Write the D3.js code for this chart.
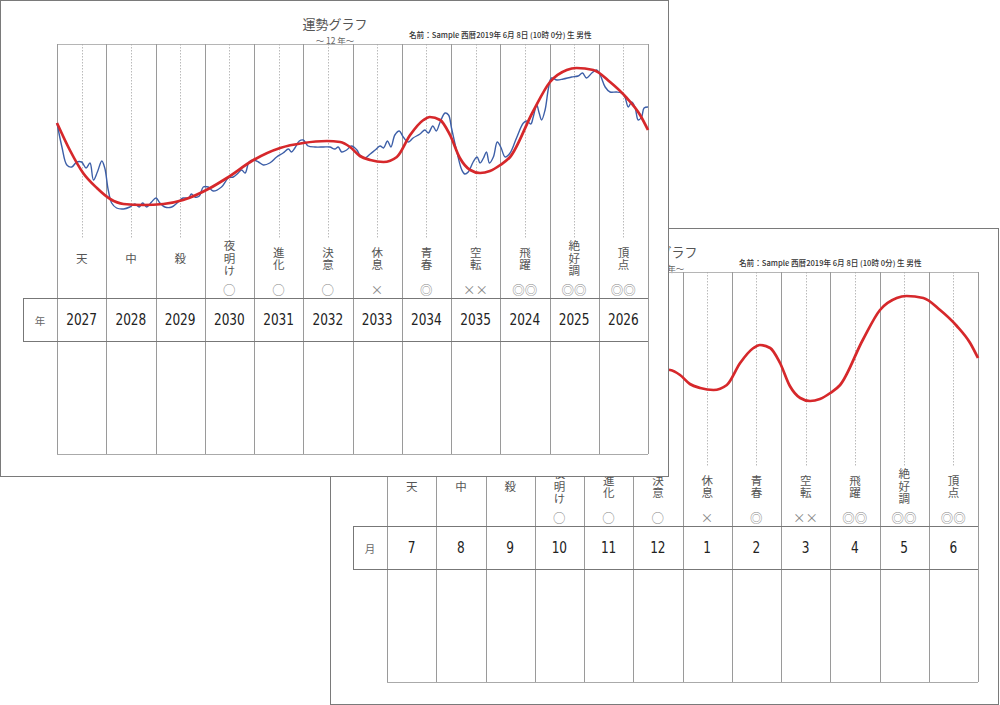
<!DOCTYPE html>
<html>
<head>
<meta charset="utf-8">
<script src="https://cdn.jsdelivr.net/npm/d3@7"></script>
<style>
  body { margin:0; background:#fff; }
  svg { display:block; }
  .vlabel { writing-mode: vertical-rl; text-orientation: upright; }
</style>
</head>
<body>
<svg id="svg"></svg>
<script>
// data
const columnNames = ['天','中','殺','夜明け','進化','決意','休息','青春','空転','飛躍','絶好調','頂点'];
const columnMarks = ['','','','○','○','○','×','◎','××','◎◎','◎◎','◎◎'];
const years = ['2027','2028','2029','2030','2031','2032','2033','2034','2035','2024','2025','2026'];
const months = ['7','8','9','10','11','12','1','2','3','4','5','6'];

// red trend line: [position in columns, score]
const trendLine = [[0,117],[0.26,90],[0.53,67],[0.81,52],[1.08,41],[1.35,36],[1.75,35],[2.16,36],[2.56,40],
  [3.11,52],[3.45,62],[3.99,80],[4.53,92],[5.0,97],[5.48,99],[5.75,98],[5.95,93],[6.15,84],[6.36,80],[6.63,78],
  [6.9,83],[7.17,105],[7.44,120],[7.57,123],[7.78,120],[7.98,105],[8.18,82],[8.39,70],[8.59,67],[8.79,69],
  [9.0,75],[9.2,83],[9.66,128],[10.01,158],[10.35,170],[10.55,172],[10.89,170],[11.23,158],[11.57,142],
  [11.84,125],[12,110]];

// blue detail line: [position in columns, score]
const detailLine = [[0,117],[0.1,93],[0.2,75],[0.3,73],[0.4,78],[0.5,78],[0.59,72],[0.67,77],[0.74,60],[0.82,68],
  [0.91,79],[0.97,72],[1.04,50],[1.11,37],[1.21,32],[1.35,31],[1.48,33],[1.58,36],[1.67,33],[1.74,37],[1.82,33],
  [1.92,38],[2.01,42],[2.09,37],[2.19,33],[2.33,33],[2.46,38],[2.56,42],[2.67,42],[2.73,46],[2.8,43],[2.89,44],
  [2.97,53],[3.07,53],[3.17,49],[3.34,53],[3.48,62],[3.58,63],[3.68,67],[3.75,70],[3.82,67],[3.9,78],[3.99,80],
  [4.09,78],[4.19,75],[4.32,77],[4.46,83],[4.59,87],[4.7,91],[4.76,88],[4.83,92],[4.92,99],[5.0,100],[5.1,94],
  [5.24,93],[5.41,93],[5.54,93],[5.64,91],[5.71,93],[5.78,88],[5.88,90],[5.98,94],[6.09,90],[6.15,85],[6.25,82],
  [6.36,86],[6.46,90],[6.56,94],[6.63,92],[6.71,99],[6.78,93],[6.86,105],[6.95,109],[7.03,103],[7.13,98],
  [7.23,102],[7.37,106],[7.47,110],[7.54,107],[7.63,114],[7.7,109],[7.78,118],[7.88,127],[7.95,125],[8.01,112],
  [8.12,88],[8.22,70],[8.28,66],[8.35,68],[8.45,78],[8.53,83],[8.59,77],[8.66,82],[8.72,88],[8.78,77],[8.86,83],
  [8.94,98],[9.01,93],[9.1,83],[9.2,87],[9.33,102],[9.47,117],[9.54,119],[9.62,116],[9.67,123],[9.74,135],
  [9.79,127],[9.84,120],[9.91,130],[9.98,152],[10.04,162],[10.15,160],[10.28,161],[10.45,163],[10.58,164],
  [10.67,167],[10.75,162],[10.86,167],[10.96,170],[11.03,165],[11.13,153],[11.23,148],[11.36,148],[11.46,147],
  [11.53,143],[11.6,133],[11.67,138],[11.74,132],[11.8,120],[11.87,123],[11.92,132],[12,133]];

const titleText = '運勢グラフ';
const subTitle = '～ 12 年～';
const infoText = '名前：Sample 西暦2019年 6月 8日 (10時 0分) 生 男性';

// declarations
let width = 1000, height = 705;
let svg = d3.select('#svg').attr('width', width).attr('height', height);
let sheetW = 668, sheetH = 476;
let grid = {left:57, right:648, top:44, bottom:454, tableTop:298, tableBottom:341, tableLeft:23};

let xScale = d3.scaleLinear().domain([0,12]).range([grid.left, grid.right]);
let yScale = d3.scaleLinear().domain([0,200]).range([240,40]);

const jp = "'Noto Sans CJK JP','Noto Sans',sans-serif";
const narrow = "'Liberation Sans Narrow','DejaVu Sans Condensed','Liberation Sans',sans-serif";

let drawSheet = (ox, oy, rowLabel, rowValues, showDetail) => {
  let g = svg.append('g').attr('transform', `translate(${ox},${oy})`);

  g.append('rect').attr('x',0.5).attr('y',0.5).attr('width',sheetW).attr('height',sheetH)
    .attr('fill','#fff').attr('stroke','#7a7a7a').attr('stroke-width',1);

  // header
  g.append('text').attr('x',335).attr('y',29).attr('text-anchor','middle')
    .attr('font-family',jp).attr('font-size',13).attr('fill','#555').text(titleText);
  g.append('text').attr('x',335).attr('y',43.5).attr('text-anchor','middle')
    .attr('font-family',jp).attr('font-size',8.5).attr('fill','#666').text(subTitle);
  g.append('text').attr('x',409).attr('y',38)
    .attr('font-family',jp).attr('font-size',7.6).attr('font-weight',500).attr('fill','#333').text(infoText);

  let idx = d3.range(12);

  // grid frame
  g.append('line').attr('x1',grid.left).attr('x2',grid.right).attr('y1',grid.top+0.5).attr('y2',grid.top+0.5)
    .attr('stroke','#b5b5b5');
  g.append('line').attr('x1',grid.left).attr('x2',grid.right).attr('y1',grid.bottom+0.5).attr('y2',grid.bottom+0.5)
    .attr('stroke','#aaa');

  // dotted center lines
  g.append('g').selectAll('line').data(idx).enter().append('line')
    .attr('x1',d=>Math.round(xScale(d+0.5))+0.5).attr('x2',d=>Math.round(xScale(d+0.5))+0.5)
    .attr('y1',grid.top).attr('y2',238)
    .attr('stroke','#a8a8a8').attr('stroke-width',0.8).attr('stroke-dasharray','1.5,1.5');

  // column lines
  g.append('g').selectAll('line').data(d3.range(13)).enter().append('line')
    .attr('x1',d=>Math.round(xScale(d))+0.5).attr('x2',d=>Math.round(xScale(d))+0.5)
    .attr('y1',grid.top).attr('y2',grid.bottom)
    .attr('stroke','#9a9a9a').attr('stroke-width',1);

  // table row
  [grid.tableTop, grid.tableBottom].forEach(yy => {
    g.append('line').attr('x1',grid.tableLeft).attr('x2',grid.right).attr('y1',yy+0.5).attr('y2',yy+0.5)
      .attr('stroke','#777');
  });
  g.append('line').attr('x1',grid.tableLeft+0.5).attr('x2',grid.tableLeft+0.5)
    .attr('y1',grid.tableTop).attr('y2',grid.tableBottom).attr('stroke','#777');
  g.append('text').attr('x',(grid.tableLeft+grid.left)/2).attr('y',320).attr('text-anchor','middle')
    .attr('dominant-baseline','central').attr('font-family',jp).attr('font-size',10.5).attr('fill','#666')
    .text(rowLabel);
  g.append('g').selectAll('text').data(rowValues).enter().append('text')
    .attr('x',(_,i)=>xScale(i+0.5)).attr('y',325.5).attr('text-anchor','middle')
    .attr('font-family',narrow).attr('font-size',15).attr('fill','#222')
    .attr('transform',(_,i)=>`translate(${xScale(i+0.5)},0) scale(0.9,1) translate(${-xScale(i+0.5)},0)`)
    .text(d=>d);

  // vertical labels
  g.append('g').selectAll('text').data(columnNames).enter().append('text')
    .classed('vlabel',true)
    .attr('x',(_,i)=>xScale(i+0.5)).attr('y',259).attr('text-anchor','middle')
    .attr('font-family',jp).attr('font-size',11.5).attr('letter-spacing',1).attr('fill','#555')
    .text(d=>d);
  g.append('g').selectAll('text').data(columnMarks).enter().append('text')
    .attr('x',(_,i)=>xScale(i+0.5)).attr('y',289).attr('text-anchor','middle')
    .attr('dominant-baseline','central').attr('font-family',jp).attr('font-size',12.5)
    .attr('fill','#888').text(d=>d);

  // lines
  if (showDetail) {
    let detail = d3.line().x(d=>xScale(d[0])).y(d=>yScale(d[1])).curve(d3.curveCatmullRom.alpha(0.5));
    g.append('path').datum(detailLine).attr('d',detail).attr('fill','none')
      .attr('stroke','#3d5fa8').attr('stroke-width',1.4);
  }
  let trend = d3.line().x(d=>xScale(d[0])).y(d=>yScale(d[1])).curve(d3.curveMonotoneX);
  g.append('path').datum(trendLine).attr('d',trend).attr('fill','none')
    .attr('stroke','#d6282b').attr('stroke-width',2.7).attr('stroke-linejoin','round');
};

// back sheet first, front sheet on top
drawSheet(330, 228, '月', months, false);
drawSheet(0, 0, '年', years, true);
</script>
</body>
</html>
